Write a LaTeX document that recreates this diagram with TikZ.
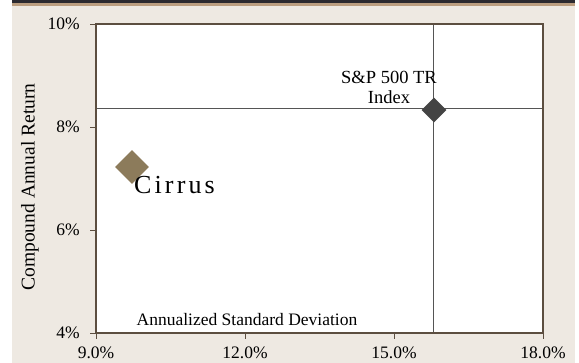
\documentclass[tikz,border=0pt]{standalone}
\usepackage{fontspec}
\setmainfont{Liberation Serif}
\usetikzlibrary{shapes.geometric}
\definecolor{panel}{HTML}{EEE9E2}
\definecolor{topbar}{HTML}{2B2A30}
\definecolor{tanline}{HTML}{BB9E80}
\definecolor{axisc}{HTML}{5C4E40}
\definecolor{crossc}{HTML}{555555}
\definecolor{cirrusc}{HTML}{8C7B5B}
\definecolor{spc}{HTML}{444444}
\tikzset{
  ticklab/.style={font=\fontsize{17.5}{20}\selectfont, inner sep=0pt},
  axislab/.style={font=\fontsize{17.5}{20}\selectfont, inner sep=0pt},
  axisline/.style={draw=axisc, line width=1.2pt},
  tickmark/.style={draw=axisc, line width=0.9pt},
  crossline/.style={draw=crossc, line width=0.8pt},
  datapt/.style={diamond, aspect=1, inner sep=0pt, draw=none}
}
\begin{document}
\begin{tikzpicture}[x=1pt,y=-1pt]
\useasboundingbox (0,0) rectangle (579,363);
% panel background
\fill[panel] (12,4) rectangle (575,363);
\fill[topbar] (12,0) rectangle (575,3.5);
\fill[tanline] (12,3.5) rectangle (575,6.5);
% plot area
\fill[white] (96,24) rectangle (543,333);
\coordinate (tl) at (96,24);
\coordinate (tr) at (543,24);
\coordinate (bl) at (96,333);
\coordinate (br) at (543,333);
% crosshair lines
\coordinate (hl) at (96,108);
\coordinate (hr) at (543,108);
\coordinate (vt) at (433,24);
\coordinate (vb) at (433,333);
\draw[crossline] (hl) -- (hr);
\draw[crossline] (vt) -- (vb);
% frame
\draw[axisline] (bl) -- (tl) -- (tr) -- (br) -- cycle;
% y ticks
\foreach \yy/\lab in {24/10\%, 127/8\%, 230/6\%, 333/4\%}{
  \draw[tickmark] (90,\yy) -- (96,\yy);
  \node[ticklab, anchor=east] at (80,\yy) {\lab};
}
% x ticks
\foreach \xx/\lab in {96/9.0\%, 245/12.0\%, 394/15.0\%, 543/18.0\%}{
  \draw[tickmark] (\xx,333) -- (\xx,339);
  \node[ticklab] at (\xx,353) {\lab};
}
% axis titles
\node[axislab] (xtitle) at (247,320) {Annualized Standard Deviation};
\node[axislab, rotate=90, font=\fontsize{19.5}{22}\selectfont] (ytitle) at (30,187) {Compound Annual Return};
% data points
\node[datapt, fill=cirrusc, minimum width=34pt, minimum height=34pt] (cirrus) at (132,167) {};
\node[datapt, fill=spc, minimum width=25pt, minimum height=25pt] (sp) at (434,110) {};
% labels
\node[anchor=base west, inner sep=0pt, font=\fontsize{26}{30}\selectfont\addfontfeature{LetterSpace=12}] (cirruslab) at (134,194) {Cirrus};
\node[align=center, inner sep=0pt, font=\fontsize{18.5}{20}\selectfont] (splab) at (389,87) {S\&P 500 TR\\Index};
\end{tikzpicture}
\end{document}
